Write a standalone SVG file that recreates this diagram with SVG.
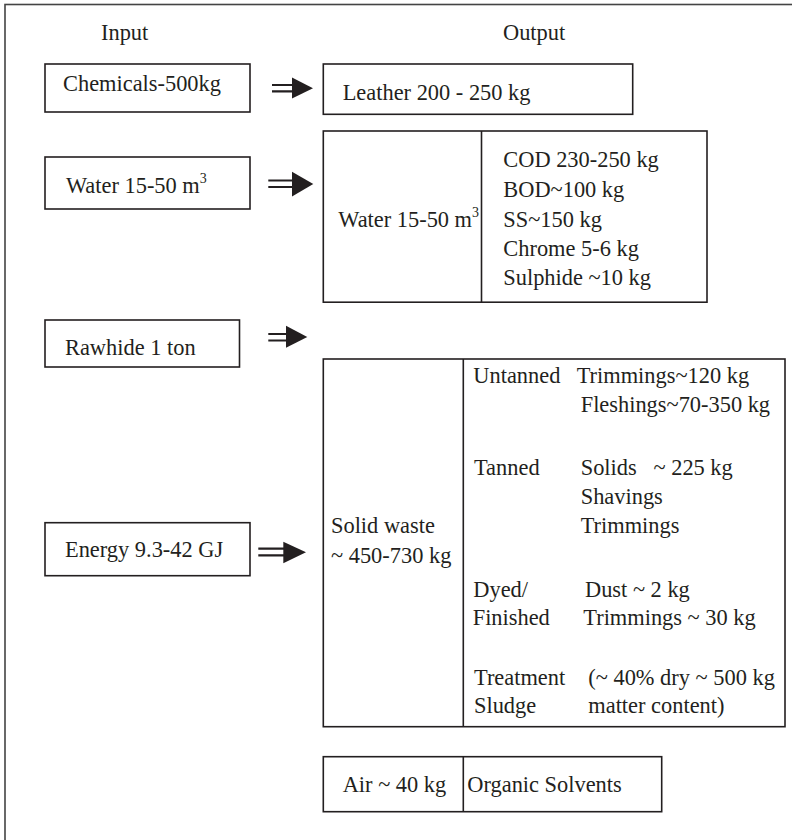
<svg xmlns="http://www.w3.org/2000/svg" width="792" height="840" viewBox="0 0 792 840">
<style>
.bx{fill:#fff;stroke:#231f20;stroke-width:1.6}
.ln{stroke:#231f20;stroke-width:1.6;fill:none}
.fr{fill:none;stroke:#444;stroke-width:1.6}
text{font-family:"Liberation Serif","Times New Roman",serif;font-size:22.4px;fill:#231f20}
.sh{stroke:#231f20;stroke-width:2.2;fill:none}
.hd{fill:#231f20;stroke:none}
</style>
<rect width="792" height="840" fill="#fff"/>
<rect class="fr" x="5" y="4.5" width="820" height="860"/>
<g id="headers">
<text x="101" y="39.5">Input</text>
<text x="503" y="39.5">Output</text>
</g>
<g id="in-chemicals">
<rect class="bx" x="45" y="64" width="205" height="48"/>
<text x="63" y="90.5">Chemicals-500kg</text>
</g>
<g id="in-water">
<rect class="bx" x="45" y="157" width="205" height="52"/>
<text x="66" y="192.7">Water 15-50 m<tspan font-size="14" dy="-10">3</tspan></text>
</g>
<g id="in-rawhide">
<rect class="bx" x="45" y="320" width="194.5" height="47"/>
<text x="65" y="355">Rawhide 1 ton</text>
</g>
<g id="in-energy">
<rect class="bx" x="45" y="522.7" width="205" height="53"/>
<text x="65" y="557.3">Energy 9.3-42 GJ</text>
</g>
<g id="out-leather">
<rect class="bx" x="323.3" y="64" width="309.4" height="50.3"/>
<text x="342.7" y="99.5">Leather 200 - 250 kg</text>
</g>
<g id="out-water">
<rect class="bx" x="323.3" y="131" width="383.7" height="171.2"/>
<line class="ln" x1="481.5" y1="131" x2="481.5" y2="302.2"/>
<text x="338.3" y="226.5">Water 15-50 m<tspan font-size="14" dy="-10">3</tspan></text>
<text x="503.3" y="166.5">COD 230-250 kg</text>
<text x="503.3" y="196.5">BOD~100 kg</text>
<text x="503.3" y="226.5">SS~150 kg</text>
<text x="503.3" y="256">Chrome 5-6 kg</text>
<text x="503.3" y="285.3">Sulphide ~10 kg</text>
</g>
<g id="out-solid">
<rect class="bx" x="323.3" y="359" width="461.7" height="367.7"/>
<line class="ln" x1="463.3" y1="359" x2="463.3" y2="726.7"/>
<text x="331" y="533.3">Solid waste</text>
<text x="331" y="562.7">~ 450-730 kg</text>
<text x="473.3" y="383.3">Untanned</text>
<text x="576.7" y="383.3">Trimmings~120 kg</text>
<text x="580.7" y="411.7">Fleshings~70-350 kg</text>
<text x="474" y="475">Tanned</text>
<text x="580.7" y="475" xml:space="preserve">Solids   ~ 225 kg</text>
<text x="580.7" y="504.3">Shavings</text>
<text x="580.7" y="533.3">Trimmings</text>
<text x="473.3" y="596.7">Dyed/</text>
<text x="585" y="596.7">Dust ~ 2 kg</text>
<text x="472.7" y="625">Finished</text>
<text x="583.3" y="625">Trimmings ~ 30 kg</text>
<text x="474" y="685">Treatment</text>
<text x="588.3" y="685">(~ 40% dry ~ 500 kg</text>
<text x="474" y="713">Sludge</text>
<text x="588.3" y="713">matter content)</text>
</g>
<g id="out-air">
<rect class="bx" x="323.3" y="756.7" width="338.4" height="55"/>
<line class="ln" x1="463.3" y1="756.7" x2="463.3" y2="811.7"/>
<text x="342.7" y="791.7">Air ~ 40 kg</text>
<text x="467.3" y="791.7">Organic Solvents</text>
</g>
<g id="connectors">
<path class="sh" d="M272 85H294M272 91.3H294"/>
<polygon class="hd" points="292,77.5 313,88.2 292,98.5"/>
<path class="sh" d="M268.3 180.5H294M268.3 187H294"/>
<polygon class="hd" points="292,171.8 313.3,184 292,196.5"/>
<path class="sh" d="M268.3 334H288M268.3 340.5H288"/>
<polygon class="hd" points="286,325.7 307.3,337 286,347.7"/>
<path class="sh" d="M258.3 548.7H285M258.3 555.3H285"/>
<polygon class="hd" points="283.3,541.7 306,552.3 283.3,563.3"/>
</g>
</svg>
